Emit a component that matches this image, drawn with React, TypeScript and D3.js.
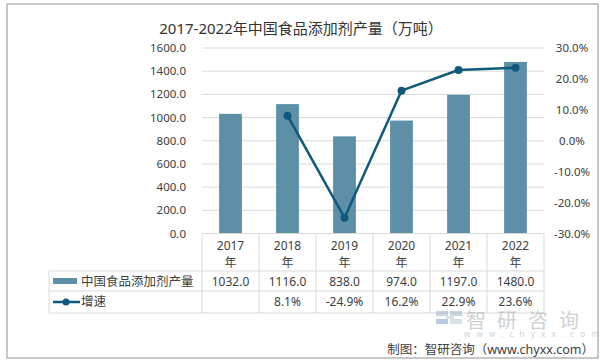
import React from "react";
import * as d3 from "d3";

// data
const years = ["2017", "2018", "2019", "2020", "2021", "2022"];
const output = [1032.0, 1116.0, 838.0, 974.0, 1197.0, 1480.0];
const growth: (number | null)[] = [null, 8.1, -24.9, 16.2, 22.9, 23.6];
const leftTicks = [0, 200, 400, 600, 800, 1000, 1200, 1400, 1600];
const rightTicks = [-30, -20, -10, 0, 10, 20, 30];

const W = 607;
const H = 363;
const BAR = "#5d8fa6";
const LINE = "#0f5a7c";
const GRID = "#d9d9d9";
const TXT = "#404040";
const FONT = "'Noto Sans', 'Noto Sans CJK SC', sans-serif";

export default function App() {
  const x = d3.scaleBand().domain(years).range([202, 544]).paddingInner(0).paddingOuter(0);
  const yL = d3.scaleLinear().domain([0, 1600]).range([233.5, 48]);
  const yR = d3.scaleLinear().domain([-30, 30]).range([233.5, 48]);
  const bw = x.bandwidth() * 0.4;
  const cx = (y: string) => (x(y) as number) + x.bandwidth() / 2;

  const line = d3
    .line<number | null>()
    .defined((d) => d !== null)
    .x((_, i) => cx(years[i]))
    .y((d) => yR(d as number));

  const rowTop = 271;
  const rowMid = 291;
  const rowBot = 313;
  const tableLeft = 49;

  return (
    <svg
      width={W}
      height={H}
      style={{ position: "absolute", left: 0, top: 0, background: "#fff" }}
      fontFamily={FONT}
    >
      <rect x={7} y={4} width={591} height={354} fill="#fff" stroke="#b4b4b4" strokeWidth={1.5} />

      <text x={301} y={34} textAnchor="middle" fontSize={15} fill="#333">
        2017-2022年中国食品添加剂产量（万吨）
      </text>

      {/* gridlines */}
      {leftTicks.map((t) => (
        <line key={t} x1={202} x2={544} y1={yL(t)} y2={yL(t)} stroke={GRID} strokeWidth={1} />
      ))}

      {/* left axis labels */}
      {leftTicks.map((t) => (
        <text key={t} x={186} y={yL(t) + 4} textAnchor="end" fontSize={11.5} fill={TXT}>
          {t.toFixed(1)}
        </text>
      ))}

      {/* right axis labels */}
      {rightTicks.map((t) => (
        <text key={t} x={572} y={yR(t) + 4} textAnchor="middle" fontSize={11.5} fill={TXT}>
          {t.toFixed(1) + "%"}
        </text>
      ))}

      {/* bars */}
      {output.map((v, i) => (
        <rect key={i} x={cx(years[i]) - bw / 2} y={yL(v)} width={bw} height={yL(0) - yL(v)} fill={BAR} />
      ))}

      {/* growth line */}
      <path d={line(growth) || ""} fill="none" stroke={LINE} strokeWidth={2.5} strokeLinejoin="round" />
      {growth.map((g, i) =>
        g === null ? null : <circle key={i} cx={cx(years[i])} cy={yR(g)} r={4} fill={LINE} />
      )}

      {/* data table */}
      <g stroke={GRID} strokeWidth={1}>
        <line x1={202} x2={544} y1={233.5} y2={233.5} />
        <line x1={tableLeft} x2={544} y1={rowTop} y2={rowTop} />
        <line x1={tableLeft} x2={544} y1={rowMid} y2={rowMid} />
        <line x1={tableLeft} x2={544} y1={rowBot} y2={rowBot} />
        <line x1={tableLeft} x2={tableLeft} y1={rowTop} y2={rowBot} />
        {years.map((y) => (
          <line key={y} x1={x(y)} x2={x(y)} y1={233.5} y2={rowBot} />
        ))}
        <line x1={544} x2={544} y1={233.5} y2={rowBot} />
      </g>

      {years.map((y) => (
        <g key={y} fontSize={12} fill={TXT} textAnchor="middle">
          <text x={cx(y)} y={250}>{y}</text>
          <text x={cx(y)} y={267}>年</text>
        </g>
      ))}
      {output.map((v, i) => (
        <text key={i} x={cx(years[i])} y={286} textAnchor="middle" fontSize={12} fill={TXT}>
          {v.toFixed(1)}
        </text>
      ))}
      {growth.map((g, i) =>
        g === null ? null : (
          <text key={i} x={cx(years[i])} y={306} textAnchor="middle" fontSize={12} fill={TXT}>
            {g.toFixed(1) + "%"}
          </text>
        )
      )}

      {/* legend keys inside table */}
      <rect x={53} y={278} width={24} height={6} fill={BAR} />
      <text x={81} y={286} fontSize={12.5} fill={TXT}>中国食品添加剂产量</text>
      <line x1={53} x2={80} y1={302} y2={302} stroke={LINE} strokeWidth={2.5} />
      <circle cx={66} cy={302} r={3.5} fill={LINE} />
      <text x={81} y={306} fontSize={12.5} fill={TXT}>增速</text>

      {/* watermark */}
      <g opacity={0.55}>
        <rect x={436} y={311} width={12} height={5} fill="#9fb4cc" />
        <rect x={450} y={311} width={12} height={5} fill="#9fb4cc" />
        <rect x={446} y={316} width={8} height={3} fill="#b8c6d6" />
        <rect x={436} y={319} width={12} height={5} fill="#7fa2c8" />
        <rect x={450} y={319} width={12} height={5} fill="#b8c6d6" />
        <text x={466} y={328} fontSize={20} fill="#a8acb0" letterSpacing={11}>智研咨询</text>
        <text x={464} y={337} fontSize={8} fill="#a8acb0" letterSpacing={6.2}>www.chyxx.com</text>
      </g>

      <text x={594} y={354} textAnchor="end" fontSize={12.5} fill={TXT}>
        制图：智研咨询（www.chyxx.com）
      </text>
    </svg>
  );
}
